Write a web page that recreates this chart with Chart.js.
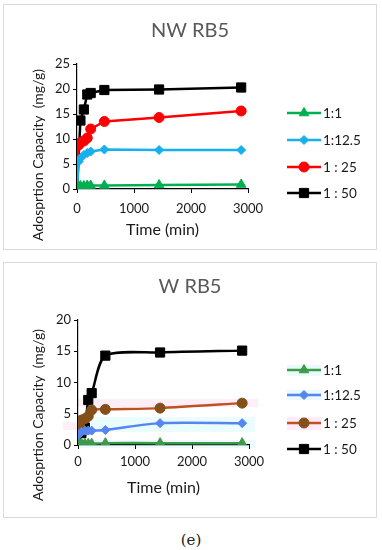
<!DOCTYPE html>
<html>
<head>
<meta charset="utf-8">
<script src="https://cdn.jsdelivr.net/npm/chart.js@4"></script>
<style>
  body { margin: 0; width: 382px; height: 550px; background: #fff; position: relative; overflow: hidden; }
  .panel { position: absolute; left: 3px; width: 372px; border: 1px solid #d9d9d9; }
  #p1 { top: 4px; height: 244px; }
  #p2 { top: 262px; height: 254px; }
  canvas { display: block; }
  #cap { position: absolute; top: 531px; left: 0; width: 382px; text-align: center;
         font: 15px "DejaVu Serif", serif; color: #222; }
</style>
</head>
<body>
<div class="panel" id="p1"><canvas id="nwChart" width="372" height="244"></canvas></div>
<div class="panel" id="p2"><canvas id="wChart" width="372" height="254"></canvas></div>
<div id="cap">(e)</div>
<script>
// NW RB5 (top)
const nwTime = [0, 30, 60, 120, 180, 240, 480, 1440, 2880];
const nwTime50 = [0, 60, 120, 180, 240, 480, 1440, 2880];
const nw1_1 = [0, 0.5, 0.6, 0.6, 0.7, 0.7, 0.7, 0.8, 0.9];
const nw1_12 = [0, 5.5, 6.2, 6.8, 7.2, 7.5, 7.9, 7.8, 7.8];
const nw1_25 = [0, 8.8, 9.3, 9.6, 10.2, 12.0, 13.5, 14.3, 15.6];
const nw1_50 = [0, 13.7, 15.9, 18.9, 19.2, 19.8, 19.9, 20.3];

// W RB5 (bottom)
const wTime = [0, 30, 60, 120, 180, 240, 480, 1440, 2880];
const wTime50 = [0, 60, 120, 180, 240, 480, 1440, 2880];
const w1_1 = [0, 0.2, 0.2, 0.2, 0.2, 0.2, 0.3, 0.3, 0.3];
const w1_12 = [0, 1.8, 2.1, 2.3, 2.3, 2.3, 2.4, 3.5, 3.5];
const w1_25 = [0, 3.1, 4.0, 4.2, 4.6, 5.6, 5.7, 5.9, 6.7];
const w1_50 = [0, 1.9, 2.8, 7.2, 8.3, 14.3, 14.8, 15.1];

const seriesLabels = ['1:1', '1:12.5', '1 : 25', '1 : 50'];
const xTicks = [0, 1000, 2000, 3000];

const FONT = 'Lato';
const INK = '#1a1a1a';

function pts(xs, ys) {
  return ys.map((y, i) => ({ x: xs[i], y: y }));
}

// faint highlighter bands that show in the scanned lower panel
const bands = {
  id: 'bands',
  beforeDraw(chart, args, opts) {
    if (!opts.list) return;
    const ctx = chart.ctx;
    ctx.save();
    opts.list.forEach(b => {
      ctx.fillStyle = b[4];
      ctx.fillRect(b[0], b[1], b[2], b[3]);
    });
    ctx.restore();
  }
};

// legend with line + marker, and the rotated y title
const extras = {
  id: 'extras',
  afterDraw(chart, args, opts) {
    const ctx = chart.ctx;
    ctx.save();
    chart.data.datasets.forEach((ds, i) => {
      const y = opts.rows[i];
      ctx.strokeStyle = ds.borderColor;
      ctx.lineWidth = ds.borderWidth;
      ctx.beginPath();
      ctx.moveTo(opts.x1, y);
      ctx.lineTo(opts.x2, y);
      ctx.stroke();
      ctx.fillStyle = ds.pointBackgroundColor;
      ctx.strokeStyle = ds.pointBorderColor;
      ctx.lineWidth = 1;
      Chart.helpers.drawPoint(ctx, { pointStyle: ds.pointStyle, radius: ds.pointRadius, rotation: 0, borderWidth: 1 },
        (opts.x1 + opts.x2) / 2, y);
      ctx.fillStyle = INK;
      ctx.font = '13.5px ' + FONT;
      ctx.textBaseline = 'middle';
      ctx.textAlign = 'left';
      ctx.fillText(ds.label, opts.x2 + 2, y + 1);
    });
    ctx.translate(opts.titleX, opts.titleY);
    ctx.rotate(-Math.PI / 2);
    ctx.textAlign = 'center';
    ctx.textBaseline = 'middle';
    ctx.fillStyle = INK;
    ctx.font = '14px ' + FONT;
    ctx.fillText('Adosprtion Capacity  (mg/g)', 0, 0);
    ctx.restore();
  }
};

function makeChart(id, cfg) {
  const styles = cfg.styles;
  const datasets = cfg.series.map((s, i) => ({
    label: seriesLabels[i],
    data: pts(s.x, s.y),
    borderColor: styles[i].line,
    backgroundColor: styles[i].line,
    pointBackgroundColor: styles[i].marker,
    pointBorderColor: styles[i].marker,
    pointStyle: styles[i].shape,
    pointRadius: styles[i].r,
    pointBorderWidth: 1,
    borderWidth: 2.5,
    tension: cfg.tension,
    fill: false
  }));
  return new Chart(document.getElementById(id), {
    type: 'line',
    data: { datasets: datasets },
    options: {
      responsive: false,
      animation: false,
      layout: { padding: { left: 0, right: 0, top: 0, bottom: cfg.bottom } },
      plugins: {
        legend: { display: false },
        tooltip: { enabled: false },
        title: {
          display: true,
          text: cfg.title,
          color: '#595959',
          font: { family: FONT, size: 20, weight: 'normal' },
          padding: { top: cfg.titleTop, bottom: cfg.titleBottom }
        },
        extras: cfg.legend,
        bands: { list: cfg.bands }
      },
      scales: {
        x: {
          type: 'linear',
          min: 0,
          max: 3000,
          afterFit: s => { s.height = 56; },
          afterBuildTicks: s => { s.ticks = xTicks.map(v => ({ value: v })); },
          ticks: { color: INK, font: { family: FONT, size: 13 }, padding: cfg.xPad, maxRotation: 0,
                   callback: v => String(v) },
          grid: { display: true, drawOnChartArea: false, drawTicks: true, tickLength: 4, color: '#000' },
          border: { display: true, color: '#000', width: 1.2 },
          title: {
            display: true,
            text: 'Time (min)',
            color: INK,
            font: { family: FONT, size: 16 },
            padding: { top: 0, bottom: cfg.xTitlePad }
          }
        },
        y: {
          min: 0,
          max: cfg.yMax,
          afterFit: s => { s.width = cfg.left; },
          ticks: { stepSize: 5, color: INK, font: { family: FONT, size: 13 }, padding: 3 },
          grid: { display: true, drawOnChartArea: false, drawTicks: true, tickLength: 4, color: '#000' },
          border: { display: true, color: '#000', width: 1.2 }
        },
        // empty box on the right that keeps room for the legend
        side: {
          position: 'right',
          display: true,
          afterFit: s => { s.width = cfg.right; },
          ticks: { display: false },
          grid: { display: false, drawTicks: false },
          border: { display: false }
        }
      }
    },
    plugins: [bands, extras]
  });
}

makeChart('nwChart', {
  title: 'NW RB5',
  yMax: 25,
  tension: 0,
  left: 73, right: 128, bottom: 4,
  titleTop: 14, titleBottom: 21,
  xPad: 8, xTitlePad: 6,
  series: [
    { x: nwTime, y: nw1_1 },
    { x: nwTime, y: nw1_12 },
    { x: nwTime, y: nw1_25 },
    { x: nwTime50, y: nw1_50 }
  ],
  styles: [
    { line: '#00b050', marker: '#00b050', shape: 'triangle', r: 5.5 },
    { line: '#16b0ec', marker: '#16b0ec', shape: 'rectRot', r: 4.5 },
    { line: '#ff0000', marker: '#ff0000', shape: 'circle', r: 5 },
    { line: '#000000', marker: '#000000', shape: 'rect', r: 6.5 }
  ],
  legend: { x1: 283, x2: 317, rows: [108, 135, 162, 188], titleX: 34, titleY: 150 }
});

makeChart('wChart', {
  title: 'W RB5',
  yMax: 20,
  tension: 0.25,
  left: 74, right: 127, bottom: 16,
  titleTop: 12, titleBottom: 21,
  xPad: 5, xTitlePad: 4,
  series: [
    { x: wTime, y: w1_1 },
    { x: wTime, y: w1_12 },
    { x: wTime, y: w1_25 },
    { x: wTime50, y: w1_50 }
  ],
  styles: [
    { line: '#3d9a4c', marker: '#3d9a4c', shape: 'triangle', r: 5.5 },
    { line: '#5585f0', marker: '#5585f0', shape: 'rectRot', r: 4.5 },
    { line: '#c0501f', marker: '#84501a', shape: 'circle', r: 5 },
    { line: '#000000', marker: '#000000', shape: 'rect', r: 6.5 }
  ],
  bands: [
    [74, 136, 180, 8, '#fdeef8'],
    [59, 159, 15, 8, '#fdeef8'],
    [79, 154, 172, 15, '#ebfcfc'],
    [76, 177, 175, 8, '#ebfcfc'],
    [283, 102, 34, 11, '#e8fbf8'],
    [283, 127, 34, 10, '#eaf9fd'],
    [283, 154, 34, 13, '#fdebf8']
  ],
  legend: { x1: 283, x2: 317, rows: [107, 132, 160, 186], titleX: 34, titleY: 152 }
});
</script>
</body>
</html>
